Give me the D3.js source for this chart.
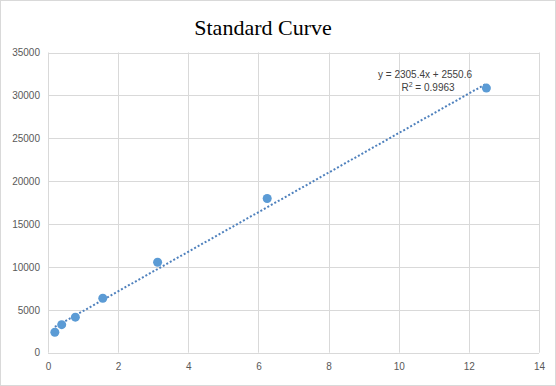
<!DOCTYPE html>
<html>
<head>
<meta charset="utf-8">
<script src="https://cdn.jsdelivr.net/npm/d3@7"></script>
<style>
  body { margin: 0; background: #fff; }
  svg { display: block; }
</style>
</head>
<body>
<svg id="chart" width="556" height="386"></svg>
<script>
// standard concentrations (x) and measured signal (y)
const concentrations = [0.195, 0.39, 0.78, 1.5625, 3.125, 6.25, 12.5];
const signals = [2390, 3270, 4140, 6350, 10550, 17980, 30850];
const xTicks = [0, 2, 4, 6, 8, 10, 12, 14];
const yTicks = [0, 5000, 10000, 15000, 20000, 25000, 30000, 35000];
const slope = 2305.4;
const intercept = 2550.6;
const equationText = "y = 2305.4x + 2550.6";
const r2Text = "0.9963";

const svg = d3.select("#chart");
const W = 556, H = 386;

// outer chart border
svg.append("rect")
  .attr("x", 0.5).attr("y", 0.5)
  .attr("width", W - 1).attr("height", H - 1)
  .attr("fill", "#fff")
  .attr("stroke", "#d9d9d9");

const x = d3.scaleLinear().domain([0, 14]).range([48, 539]);
const y = d3.scaleLinear().domain([0, 35000]).range([352.7, 52.5]);

// gridlines
const grid = svg.append("g");
grid.selectAll("line.h")
  .data(yTicks)
  .join("line")
  .attr("x1", x(0)).attr("x2", x(14))
  .attr("y1", d => Math.round(y(d)) + 0.5)
  .attr("y2", d => Math.round(y(d)) + 0.5)
  .attr("stroke", "#d9d9d9");
grid.selectAll("line.v")
  .data(xTicks)
  .join("line")
  .attr("x1", d => Math.round(x(d)) + 0.5)
  .attr("x2", d => Math.round(x(d)) + 0.5)
  .attr("y1", y(35000)).attr("y2", y(0))
  .attr("stroke", "#d9d9d9");

// axes (labels only, Excel style)
const yAxis = svg.append("g")
  .attr("transform", `translate(${x(0) - 8},0)`)
  .call(d3.axisLeft(y).tickValues(yTicks).tickSize(0).tickPadding(0).tickFormat(d3.format("d")));
const xAxis = svg.append("g")
  .attr("transform", `translate(0,${y(0) + 10})`)
  .call(d3.axisBottom(x).tickValues(xTicks).tickSize(0).tickPadding(0).tickFormat(d3.format("d")));
[yAxis, xAxis].forEach(a => {
  a.select(".domain").remove();
  a.selectAll("text")
    .attr("fill", "#595959")
    .style("font-family", "'Liberation Sans', Arial, sans-serif")
    .style("font-size", "10px");
});

// title
svg.append("text")
  .attr("x", 263)
  .attr("y", 35)
  .attr("text-anchor", "middle")
  .style("font-family", "'Liberation Serif', 'Times New Roman', serif")
  .style("font-size", "22px")
  .attr("fill", "#000")
  .text("Standard Curve");

// linear trendline
const x0 = d3.min(concentrations), x1 = d3.max(concentrations);
svg.append("line")
  .attr("x1", x(x0)).attr("y1", y(slope * x0 + intercept))
  .attr("x2", x(x1)).attr("y2", y(slope * x1 + intercept))
  .attr("stroke", "#4f81bd")
  .attr("stroke-width", 2)
  .attr("stroke-dasharray", "2,2");

// points
svg.selectAll("circle")
  .data(concentrations.map((c, i) => ({c, s: signals[i]})))
  .join("circle")
  .attr("cx", d => x(d.c))
  .attr("cy", d => y(d.s))
  .attr("r", 4.5)
  .attr("fill", "#5b9bd5");

// trendline label
const lbl = svg.append("text")
  .attr("text-anchor", "middle")
  .style("font-family", "'Liberation Sans', Arial, sans-serif")
  .style("font-size", "10px")
  .attr("fill", "#404040");
lbl.append("tspan").attr("x", 425).attr("y", 78).text(equationText);
const r2 = lbl.append("tspan").attr("x", 428).attr("y", 91);
r2.text("R");
r2.append("tspan").attr("dy", -4).style("font-size", "7px").text("2");
r2.append("tspan").attr("dy", 4).text(" = " + r2Text);
</script>
</body>
</html>
